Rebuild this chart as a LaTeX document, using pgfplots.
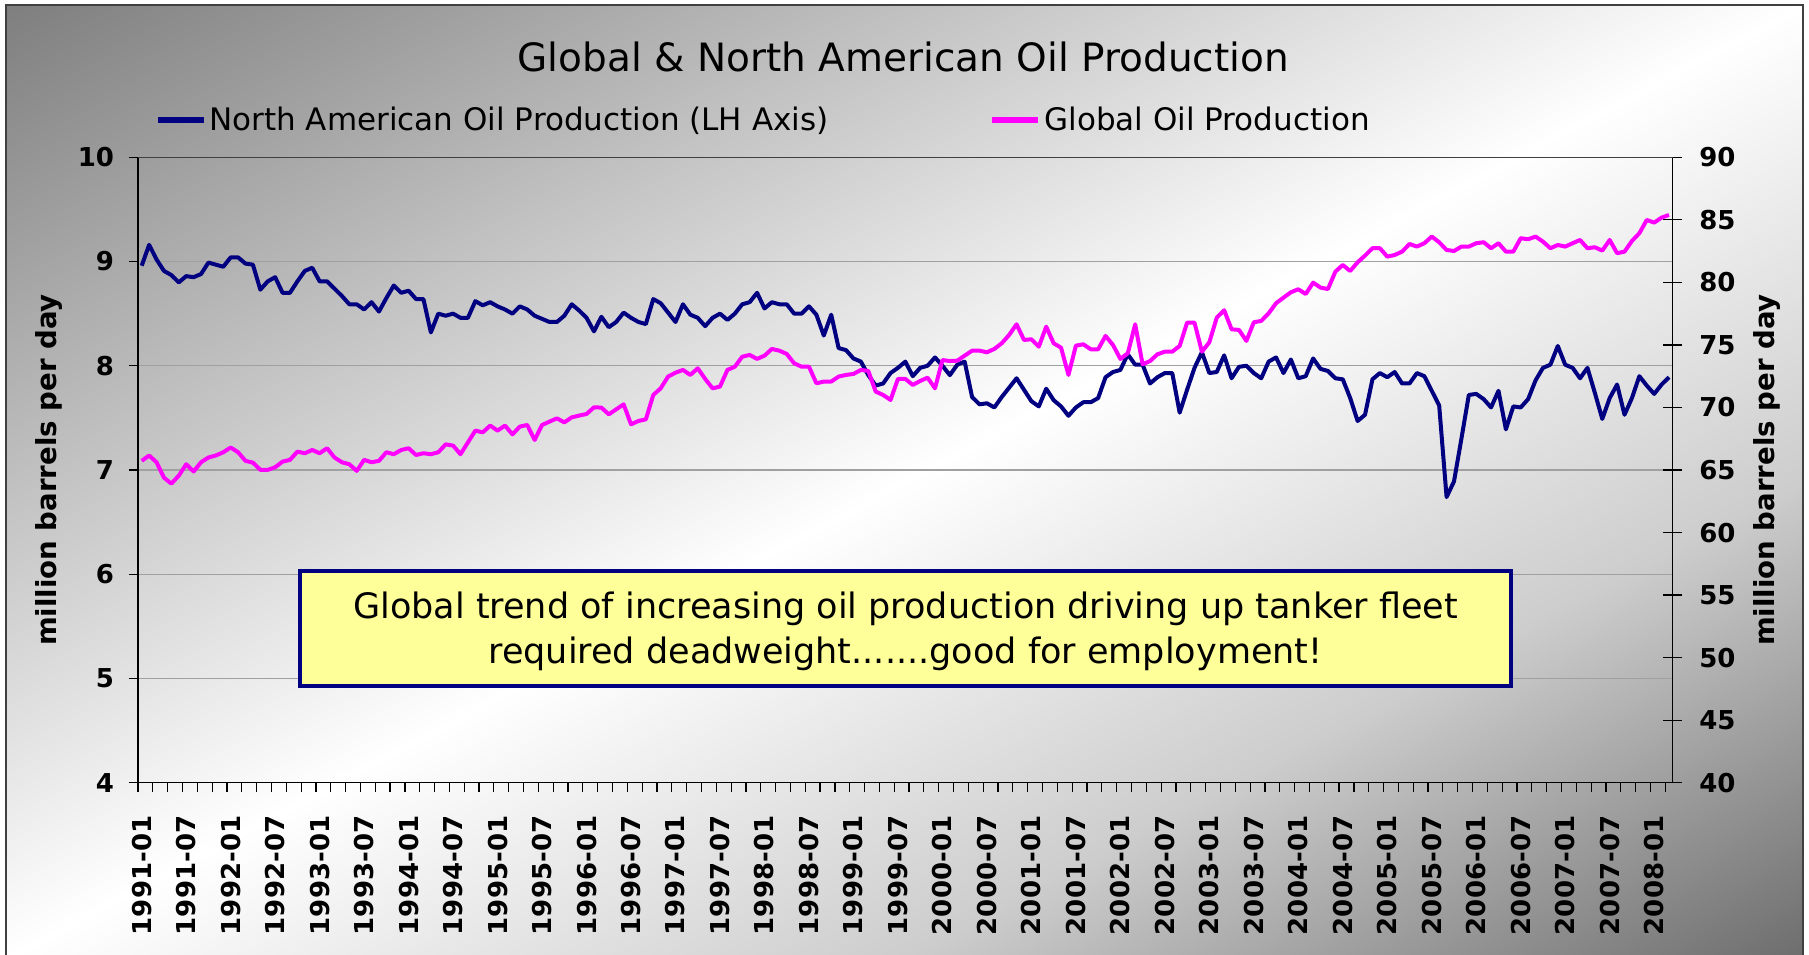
\documentclass[border=0pt]{standalone}
\usepackage{pgfplots}
\pgfplotsset{compat=1.18}
\usepackage{pgfplotstable}
\usepackage{fontspec}
\setmainfont{DejaVu Sans}
\definecolor{navyline}{HTML}{000080}
\definecolor{pinkline}{HTML}{FF00FF}
\definecolor{notefill}{HTML}{FFFF99}
\definecolor{bgTL}{HTML}{7F7F7F}
\definecolor{bgmidT}{HTML}{C0C0C0}
\definecolor{bgmidB}{HTML}{CDCDCD}
\definecolor{bgBR}{HTML}{6E6E6E}
\definecolor{gridgray}{HTML}{A0A0A0}
\definecolor{framegray}{HTML}{404040}
\pgfdeclareverticalshading{bgshade}{100bp}{color(0bp)=(bgBR); color(14.6bp)=(bgBR); color(32.3bp)=(bgmidB); color(50bp)=(white); color(67.7bp)=(bgmidT); color(85.4bp)=(bgTL); color(100bp)=(bgTL)}

\pgfplotstableread{
k na gl
0 8.96 65.73
1 9.16 66.16
2 9.02 65.62
3 8.91 64.39
4 8.87 63.91
5 8.80 64.55
6 8.86 65.46
7 8.85 64.88
8 8.88 65.62
9 8.99 66.00
10 8.97 66.16
11 8.95 66.42
12 9.04 66.80
13 9.04 66.42
14 8.98 65.73
15 8.97 65.59
16 8.73 65.01
17 8.81 65.01
18 8.85 65.22
19 8.70 65.67
20 8.70 65.81
21 8.81 66.47
22 8.91 66.34
23 8.94 66.60
24 8.81 66.34
25 8.81 66.74
26 8.74 66.00
27 8.67 65.62
28 8.59 65.46
29 8.59 64.93
30 8.54 65.81
31 8.61 65.62
32 8.52 65.73
33 8.65 66.42
34 8.77 66.26
35 8.70 66.60
36 8.72 66.74
37 8.64 66.20
38 8.64 66.34
39 8.32 66.26
40 8.50 66.42
41 8.48 67.05
42 8.50 66.95
43 8.46 66.26
44 8.46 67.21
45 8.62 68.15
46 8.58 68.01
47 8.61 68.55
48 8.57 68.15
49 8.54 68.55
50 8.50 67.85
51 8.57 68.47
52 8.54 68.60
53 8.48 67.40
54 8.45 68.60
55 8.42 68.87
56 8.42 69.13
57 8.48 68.81
58 8.59 69.21
59 8.53 69.35
60 8.46 69.48
61 8.33 70.01
62 8.47 69.99
63 8.37 69.45
64 8.42 69.85
65 8.51 70.25
66 8.46 68.65
67 8.42 68.92
68 8.40 69.05
69 8.64 71.00
70 8.60 71.53
71 8.51 72.47
72 8.42 72.78
73 8.59 73.00
74 8.49 72.60
75 8.46 73.13
76 8.38 72.28
77 8.46 71.53
78 8.50 71.67
79 8.44 73.00
80 8.50 73.26
81 8.59 74.06
82 8.61 74.20
83 8.70 73.88
84 8.55 74.14
85 8.61 74.68
86 8.59 74.54
87 8.59 74.28
88 8.50 73.53
89 8.50 73.26
90 8.57 73.26
91 8.49 71.93
92 8.29 72.07
93 8.49 72.07
94 8.17 72.47
95 8.15 72.60
96 8.07 72.68
97 8.04 73.00
98 7.91 72.92
99 7.81 71.27
100 7.83 71.00
101 7.93 70.60
102 7.98 72.28
103 8.04 72.28
104 7.90 71.80
105 7.98 72.12
106 8.00 72.38
107 8.08 71.53
108 8.00 73.79
109 7.91 73.71
110 8.01 73.74
111 8.04 74.14
112 7.70 74.54
113 7.63 74.54
114 7.64 74.41
115 7.60 74.68
116 7.70 75.13
117 7.79 75.80
118 7.88 76.65
119 7.77 75.40
120 7.66 75.45
121 7.61 74.86
122 7.78 76.46
123 7.67 75.13
124 7.61 74.78
125 7.52 72.60
126 7.60 74.94
127 7.65 75.05
128 7.65 74.65
129 7.69 74.65
130 7.89 75.72
131 7.94 75.00
132 7.96 73.88
133 8.11 74.33
134 8.01 76.65
135 8.01 73.45
136 7.83 73.71
137 7.89 74.25
138 7.93 74.46
139 7.93 74.46
140 7.55 74.92
141 7.77 76.78
142 7.98 76.78
143 8.13 74.46
144 7.93 75.21
145 7.94 77.18
146 8.10 77.77
147 7.88 76.25
148 7.99 76.20
149 8.00 75.32
150 7.93 76.81
151 7.88 76.92
152 8.04 77.53
153 8.08 78.33
154 7.93 78.78
155 8.06 79.21
156 7.88 79.45
157 7.90 79.07
158 8.07 79.98
159 7.97 79.58
160 7.95 79.47
161 7.88 80.86
162 7.87 81.39
163 7.69 80.91
164 7.47 81.61
165 7.53 82.14
166 7.87 82.73
167 7.93 82.73
168 7.89 82.06
169 7.94 82.19
170 7.83 82.46
171 7.83 83.07
172 7.93 82.86
173 7.90 83.13
174 7.76 83.66
175 7.62 83.21
176 6.74 82.59
177 6.89 82.51
178 7.30 82.86
179 7.72 82.86
180 7.73 83.13
181 7.68 83.21
182 7.60 82.73
183 7.76 83.13
184 7.39 82.46
185 7.61 82.46
186 7.60 83.53
187 7.68 83.45
188 7.86 83.66
189 7.98 83.26
190 8.01 82.73
191 8.19 82.99
192 8.01 82.86
193 7.98 83.13
194 7.88 83.39
195 7.98 82.73
196 7.74 82.81
197 7.49 82.54
198 7.69 83.39
199 7.82 82.33
200 7.53 82.46
201 7.69 83.31
202 7.90 83.93
203 7.81 84.99
204 7.73 84.78
205 7.82 85.18
206 7.89 85.39
}\oildata

\newcommand{\ticklabelfont}{\fontsize{13}{15}\selectfont\bfseries}
\newcommand{\axislabelfont}{\fontsize{13.8}{16}\selectfont\bfseries}

\begin{document}
\begin{tikzpicture}[x=0.5pt,y=0.5pt]
\useasboundingbox (0,0) rectangle (1809,954);
\fill[white] (0,0) rectangle (1809,954);
\begin{scope}[transform canvas={shift={(452.25pt,236.25pt)}, xscale=8.985, yscale=4.765}]
\shade[shading=bgshade, shading angle=45] (-50pt,-50pt) rectangle (50pt,50pt);
\end{scope}
\draw[framegray, line width=0.8pt] (6,-4) -- (6,949) -- (1803,949) -- (1803,-4);

% title
\node[anchor=base, font=\fontsize{19.5}{22}\selectfont] at (903.3,882.5) {Global \& North American Oil Production};

% legend
\draw[navyline, line width=3pt] (158,833.7) -- (204,833.7);
\node[anchor=base west, inner sep=0pt, font=\fontsize{15.5}{18}\selectfont] at (209,823.3) {North American Oil Production (LH Axis)};
\draw[pinkline, line width=3pt] (992,833.7) -- (1038,833.7);
\node[anchor=base west, inner sep=0pt, font=\fontsize{15.5}{18}\selectfont] at (1044,823.3) {Global Oil Production};

\begin{axis}[
  at={(69pt,85.65pt)}, anchor=south west,
  scale only axis, width=767.35pt, height=312.7pt,
  xmin=-0.5, xmax=206.5, ymin=4, ymax=10,
  axis x line*=bottom, axis y line*=left,
  axis line style={black, line width=0.65pt},
  tick align=outside,
  ytick={4,5,...,10},
  major tick length=4.5pt,
  minor tick length=4.65pt,
  tick style={black, line width=0.6pt},
  ymajorgrids, grid style={gridgray, line width=0.6pt},
  xtick={0,6,...,204},
  xticklabels={1991-01,1991-07,1992-01,1992-07,1993-01,1993-07,1994-01,1994-07,1995-01,1995-07,1996-01,1996-07,1997-01,1997-07,1998-01,1998-07,1999-01,1999-07,2000-01,2000-07,2001-01,2001-07,2002-01,2002-07,2003-01,2003-07,2004-01,2004-07,2005-01,2005-07,2006-01,2006-07,2007-01,2007-07,2008-01},
  major x tick style={draw=none},
  minor xtick={-0.5,1.5,...,205.5},
  xticklabel style={yshift=-8.5pt, rotate=90, anchor=east, font=\ticklabelfont},
  yticklabel style={xshift=-4pt, font=\ticklabelfont},
  /pgf/number format/assume math mode=true,
  ylabel={million barrels per day},
  ylabel style={at={(axis description cs:-0.0583,0.5)}, anchor=center, font=\axislabelfont},
  clip=false,
]
\addplot[navyline, line width=2pt, line join=round, mark=none] table[x=k, y=na] {\oildata};
\end{axis}

\begin{axis}[
  at={(69pt,85.65pt)}, anchor=south west,
  scale only axis, width=767.35pt, height=312.7pt,
  xmin=-0.5, xmax=206.5, ymin=40, ymax=90,
  axis x line=none, axis y line*=right,
  axis line style={black, line width=0.65pt},
  ytick={40,45,...,90},
  tick align=center,
  major tick length=9.5pt,
  tick style={black, line width=0.6pt},
  yticklabel style={xshift=5pt, font=\ticklabelfont},
  /pgf/number format/assume math mode=true,
  ylabel={million barrels per day},
  ylabel style={at={(axis description cs:1.0615,0.5)}, anchor=center, font=\axislabelfont},
  clip=false,
]
\addplot[pinkline, line width=2pt, line join=round, mark=none] table[x=k, y=gl] {\oildata};
\draw[framegray, line width=0.65pt] (rel axis cs:0,1) -- (rel axis cs:1,1);
\end{axis}

% annotation
\draw[navyline, line width=1.6pt, fill=notefill] (300,383) rectangle (1511,268);
\node[anchor=base, font=\fontsize{17.5}{20}\selectfont] at (905.5,335.7) {Global trend of increasing oil production driving up tanker fleet};
\node[anchor=base, font=\fontsize{17.5}{20}\selectfont] at (905.5,290.7) {required deadweight.......good for employment!};
\end{tikzpicture}
\end{document}
